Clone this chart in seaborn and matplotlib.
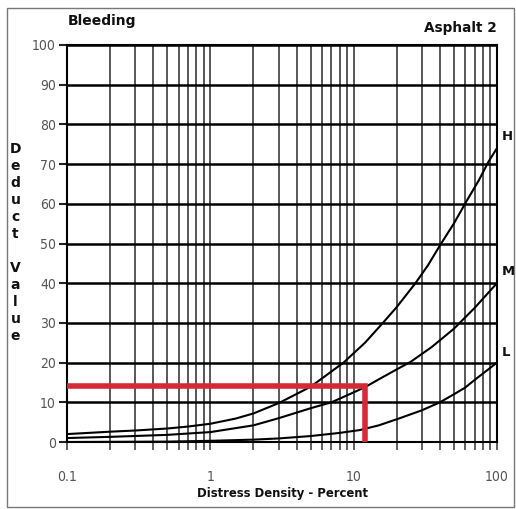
import numpy as np
import pandas as pd
import matplotlib
matplotlib.use("Agg")
import matplotlib.pyplot as plt
import matplotlib.ticker as mticker
from matplotlib.patches import Rectangle
import seaborn as sns

# ---- data ----
h_density = [0.1, 0.2, 0.3, 0.5, 0.7, 1, 1.5, 2, 3, 5, 8.5, 12, 16, 20, 27, 33, 40, 50, 61, 75, 87, 100]
h_deduct = [2.0, 2.6, 2.9, 3.4, 3.9, 4.6, 5.9, 7.2, 9.8, 13.9, 20, 25, 30, 34, 40, 44.5, 49.5, 55, 60.5, 66, 70.5, 74]

m_density = [0.1, 0.2, 0.5, 1, 2, 3, 5, 7, 10, 12, 15, 20, 25, 35, 50, 70, 100]
m_deduct = [1.0, 1.3, 1.8, 2.5, 4.2, 6.0, 8.5, 10, 12.5, 13.8, 15.8, 18.3, 20.2, 23.9, 28.5, 33.8, 40]

l_density = [0.1, 0.5, 1, 2, 3, 5, 8, 11, 15, 21, 30, 40, 50, 60, 72, 85, 100]
l_deduct = [0.0, 0.1, 0.3, 0.6, 0.9, 1.5, 2.3, 3.0, 4.2, 6.0, 8.0, 10, 12, 13.7, 16, 18, 20]

red_density = [0.1, 12, 12]
red_deduct = [14, 14, 0]

curve_labels = ["H", "M", "L"]
label_y = [77, 43, 22.5]

x_major = [0.1, 1, 10, 100]
x_major_labels = ["0.1", "1", "10", "100"]
y_ticks = list(range(0, 101, 10))

title_left = "Bleeding"
title_right = "Asphalt 2"
x_label = "Distress Density - Percent"
y_label = "Deduct Value"

# ---- build frame ----
frames = []
for name, xs, ys in zip(curve_labels, [h_density, m_density, l_density],
                        [h_deduct, m_deduct, l_deduct]):
    frames.append(pd.DataFrame({"density": xs, "deduct": ys, "level": name}))
df = pd.concat(frames, ignore_index=True)
red_df = pd.DataFrame({"density": red_density, "deduct": red_deduct})

sns.set_style("white")
plt.rcParams["font.family"] = ["DejaVu Sans"]

fig = plt.figure(figsize=(5.16, 5.09), dpi=100)
ax = fig.add_axes([0.130, 0.1316, 0.833, 0.78])

ax.set_xscale("log")
ax.set_xlim(0.1, 100)
ax.set_ylim(0, 100)

# grid
ax.xaxis.set_major_locator(mticker.FixedLocator(x_major))
ax.xaxis.set_minor_locator(mticker.LogLocator(base=10, subs=np.arange(2, 10)))
ax.xaxis.set_major_formatter(mticker.FixedFormatter(x_major_labels))
ax.xaxis.set_minor_formatter(mticker.NullFormatter())
ax.set_yticks(y_ticks)
ax.grid(True, axis="x", which="both", color="#4a4a4a", linewidth=1.3, zorder=1)
ax.grid(True, axis="y", which="major", color="black", linewidth=1.8, zorder=1)
ax.set_axisbelow(True)

for level in curve_labels:
    sns.lineplot(data=df[df["level"] == level], x="density", y="deduct",
                 color="black", linewidth=1.5, ax=ax, sort=True,
                 estimator=None, zorder=3)

sns.lineplot(data=red_df, x="density", y="deduct", sort=False, estimator=None,
             color="#d42a35", linewidth=4, ax=ax, zorder=4,
             solid_joinstyle="miter", solid_capstyle="butt")

for lab, yv in zip(curve_labels, label_y):
    ax.text(1.012, yv / 100, lab, transform=ax.transAxes, fontsize=9.5,
            fontweight="bold", ha="left", va="center", color="#111111")

for s in ax.spines.values():
    s.set_color("black")
    s.set_linewidth(1.5)

ax.tick_params(axis="y", which="major", direction="out", length=6, width=1.5,
               color="#222222", labelcolor="#555555", pad=2, left=True)
ax.tick_params(axis="x", which="both", direction="out", length=6, width=1.2,
               color="#444444", bottom=True)
ax.tick_params(axis="x", which="major", labelcolor="#555555", pad=14)
for t in ax.get_xticklabels() + ax.get_yticklabels():
    t.set_family("DejaVu Sans")
    t.set_stretch("condensed")
    t.set_fontsize(10)

ax.set_xlabel("")
ax.set_ylabel("")

fig.text(0.132, 0.958, title_left, fontsize=10, fontweight="bold", ha="left",
         va="center", color="#111111")
fig.text(0.963, 0.945, title_right, fontsize=9.8, fontweight="bold", ha="right",
         va="center", color="#111111")
fig.text(0.547, 0.031, x_label, fontsize=8.4, fontweight="bold", ha="center",
         va="center", color="#111111")
stacked = "\n".join([c if c != " " else "" for c in y_label])
fig.text(0.030, 0.523, stacked, fontsize=10, fontweight="bold", ha="center",
         va="center", color="#111111", linespacing=1.27)

fig.patches.append(Rectangle((0.013, 0.004), 0.984, 0.98, transform=fig.transFigure,
                             fill=False, edgecolor="#777777", linewidth=1.0))

fig.savefig("out.png", dpi=100)
